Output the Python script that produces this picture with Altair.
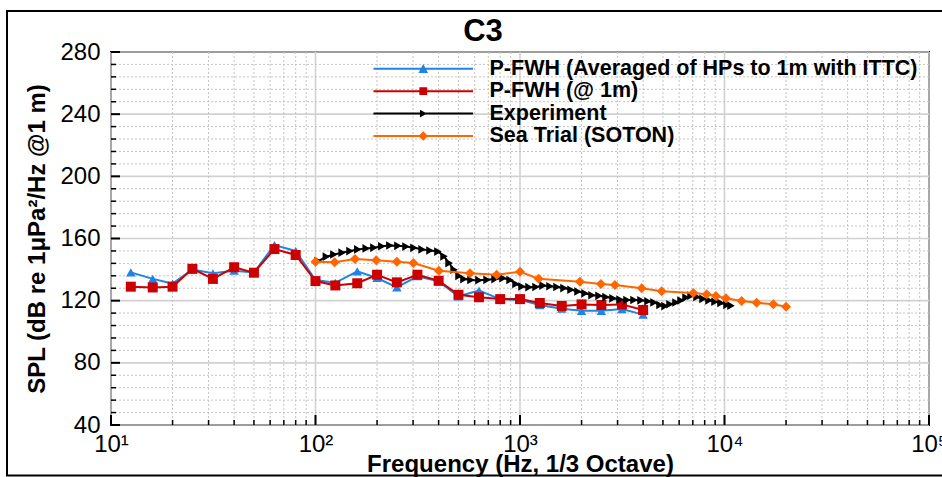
import altair as alt
import pandas as pd

# ---------------------------------------------------------------- data
# 1/3-octave band centres used by the two P-FWH predictions (Hz)
band_freq = [12.5, 16, 20, 25, 31.5, 40, 50, 63, 80, 100, 125, 160, 200, 250,
             315, 400, 500, 630, 800, 1000, 1250, 1600, 2000, 2500, 3150, 4000]
pfwh_avg_spl = [138.2, 134.0, 131.0, 140.0, 137.6, 139.3, 138.2, 155.8, 152.0, 133.3,
                131.5, 138.9, 134.6, 128.5, 135.7, 132.4, 122.8, 126.5, 121.0, 120.5,
                117.2, 114.8, 113.5, 113.5, 114.6, 111.0]
pfwh_1m_spl = [129.0, 128.5, 129.0, 140.5, 134.0, 141.5, 138.0, 153.2, 149.4, 132.6,
               129.8, 131.2, 136.7, 131.8, 136.7, 132.8, 123.8, 122.2, 121.0, 121.0,
               118.5, 116.6, 117.6, 117.2, 117.6, 114.0]

# model-scale experiment (Hz, dB)
exp_freq = [103, 113, 123, 135, 147.5, 161, 177, 193, 211, 231,
            253, 277, 303, 332, 363, 397, 425, 450, 476, 503,
            532, 576, 630, 690, 755, 826, 894, 956, 1023, 1107,
            1197, 1296, 1402, 1517, 1641, 1776, 1921, 2079, 2249, 2434,
            2633, 2850, 3083, 3336, 3610, 3906, 4226, 4522, 4837, 5117,
            5414, 5792, 6128, 6482, 6859, 7337, 7851, 8399, 8986, 9614,
            10285, 10761]
exp_spl = [145.5, 148.3, 149.7, 150.9, 151.9, 153.0, 153.6, 154.1, 155.0, 155.5,
           155.3, 154.8, 154.0, 153.0, 152.3, 151.6, 148.5, 144.2, 139.9, 135.9,
           133.9, 133.3, 133.2, 133.4, 133.9, 134.5, 133.3, 130.7, 129.1, 128.7,
           128.8, 129.7, 129.3, 128.8, 128.1, 127.0, 125.9, 124.7, 123.5, 123.1,
           122.3, 121.5, 120.7, 120.4, 120.4, 120.2, 119.6, 118.9, 117.2, 116.5,
           117.7, 118.8, 120.1, 122.0, 123.2, 122.4, 121.2, 120.2, 119.3, 118.5,
           117.3, 116.8]

# full-scale sea trial (Hz, dB)
sea_freq = [100, 124, 156, 198, 250, 301, 401, 569, 769, 1000, 1234, 1963,
            2488, 2913, 3936, 4930, 7040, 8180, 9080, 10160, 12130, 14360, 17330, 20000]
sea_spl = [145.1, 144.7, 146.8, 146.0, 145.1, 144.2, 139.3, 137.6, 136.7, 138.6, 134.1, 132.2,
           130.7, 130.1, 128.0, 126.0, 125.0, 124.1, 123.0, 121.5, 119.8, 118.7, 117.7, 116.1]

series_names = ["P-FWH (Averaged of HPs to 1m with ITTC)", "P-FWH (@ 1m)",
                "Experiment", "Sea Trial (SOTON)"]
series_colors = ["#1f84e6", "#cc0000", "#000000", "#ff6600"]
series_shapes = ["triangle-up", "square", "triangle-right", "diamond"]
series_sizes = [90, 100, 75, 100]

# legend glyphs: short line segment with the series marker on top
seg = "M-8.3,-0.17L8.3,-0.17L8.3,0.17L-8.3,0.17Z"
legend_glyphs = [
    seg + "M0,-0.8L0.8,0.7L-0.8,0.7Z",
    seg + "M-0.65,-0.65L0.65,-0.65L0.65,0.65L-0.65,0.65Z",
    seg + "M-0.55,-0.65L0.6,0L-0.55,0.65Z",
    seg + "M0,-0.8L0.8,0L0,0.8L-0.8,0Z",
]

# axis ticks / grid positions
x_major = [10, 100, 1000, 10000, 100000]
x_minor = [20, 30, 40, 50, 60, 70, 80, 90,
           200, 300, 400, 500, 600, 700, 800, 900,
           2000, 3000, 4000, 5000, 6000, 7000, 8000, 9000,
           20000, 30000, 40000, 50000, 60000, 70000, 80000, 90000]
x_tick_labels = ["10¹", "10²", "10³", "10⁴", "10⁵"]
y_major = [40, 80, 120, 160, 200, 240, 280]
y_minor = [48, 56, 64, 72, 88, 96, 104, 112, 128, 136, 144, 152,
           168, 176, 184, 192, 208, 216, 224, 232, 248, 256, 264, 272]

# ---------------------------------------------------------------- layout
W, H = 818, 373
FONT = "Liberation Sans"
xs = alt.Scale(type="log", domain=[10, 100000])
ys = alt.Scale(domain=[40, 280])


def X(field, axis=alt.Undefined):
    return alt.X(field, type="quantitative", scale=xs, axis=axis)


def Y(field, axis=alt.Undefined):
    return alt.Y(field, type="quantitative", scale=ys, axis=axis)


label_js = "[" + ",".join("'" + s + "'" for s in x_tick_labels) + "]"
x_axis = alt.Axis(
    values=x_major, grid=False, ticks=False, domain=False,
    labelExpr=label_js + "[round(log(datum.value)/LN10) - 1]",
    labelFont=FONT, labelFontSize=24, labelColor="black", labelPadding=7,
    labelFlush=False, labelOverlap=False,
    title="Frequency (Hz, 1/3 Octave)", titleFont=FONT, titleFontSize=24,
    titleFontWeight="bold", titleColor="black", titleY=46,
    titleBaseline="alphabetic",
)
y_axis = alt.Axis(
    values=y_major, grid=False, ticks=False, domain=False,
    labelFont=FONT, labelFontSize=24, labelColor="black", labelPadding=11,
    labelFlush=False, labelOverlap=False,
    title="SPL (dB re 1μPa²/Hz @1 m)", titleFont=FONT, titleFontSize=24,
    titleFontWeight="bold", titleColor="black", titleX=-67, titleY=H / 2,
    titleBaseline="alphabetic", titleAngle=270,
)

one_row = pd.DataFrame({"k": [0]})

xmin_df = pd.DataFrame({"f": x_minor})
xmaj_df = pd.DataFrame({"f": x_major})
ymin_df = pd.DataFrame({"spl": y_minor})
ymaj_df = pd.DataFrame({"spl": y_major})

# major grid lines carry the axes
grid_major_x = alt.Chart(xmaj_df).mark_rule(color="#d2d2d2", strokeWidth=1.6).encode(x=X("f", x_axis))
grid_major_y = alt.Chart(ymaj_df).mark_rule(color="#d2d2d2", strokeWidth=1.6).encode(y=Y("spl", y_axis))
grid_minor_x = alt.Chart(xmin_df).mark_rule(color="#c4c4c4", strokeWidth=1, strokeDash=[2, 2]).encode(x=X("f"))
grid_minor_y = alt.Chart(ymin_df).mark_rule(color="#c4c4c4", strokeWidth=1, strokeDash=[2, 2]).encode(y=Y("spl"))

# outer frame around the whole figure
frame = alt.Chart(one_row).mark_rect(filled=False, stroke="black", strokeWidth=2).encode(
    x=alt.value(-104), x2=alt.value(850), y=alt.value(-41), y2=alt.value(423.5)
)

# figure title
title_mark = alt.Chart(one_row).mark_text(
    text="C3", font=FONT, fontSize=31, fontWeight="bold", color="black",
    align="center", baseline="alphabetic"
).encode(x=alt.value(372), y=alt.value(-11))

# inward tick marks on the left and bottom edges
tick_y_major = alt.Chart(ymaj_df).mark_rule(color="black", strokeWidth=2).encode(
    y=Y("spl"), x=alt.value(0), x2=alt.value(9))
tick_y_minor = alt.Chart(ymin_df).mark_rule(color="black", strokeWidth=1.5).encode(
    y=Y("spl"), x=alt.value(0), x2=alt.value(5))
tick_x_major = alt.Chart(xmaj_df).mark_rule(color="black", strokeWidth=2).encode(
    x=X("f"), y=alt.value(H), y2=alt.value(H - 10))
tick_x_minor = alt.Chart(xmin_df).mark_rule(color="black", strokeWidth=1.5).encode(
    x=X("f"), y=alt.value(H), y2=alt.value(H - 5))

# legend (drawn from the colour/shape scales of an empty layer)
legend_cfg = dict(
    title=None, orient="none", legendX=301.5, legendY=6, padding=0,
    labelFont=FONT, labelFontSize=21.5, labelFontWeight="bold", labelColor="black",
    labelOffset=55.5, labelLimit=800, symbolSize=144, symbolStrokeWidth=0,
    symbolOpacity=1, rowPadding=-0.6,
)
legend_df = pd.DataFrame({"series": series_names, "f": [100] * 4, "spl": [100] * 4})
legend_layer = alt.Chart(legend_df).transform_filter("false").mark_point(
    filled=True, opacity=1, size=144
).encode(
    x=X("f"), y=Y("spl"),
    color=alt.Color("series:N", scale=alt.Scale(domain=series_names, range=series_colors),
                    legend=alt.Legend(**legend_cfg)),
    shape=alt.Shape("series:N", scale=alt.Scale(domain=series_names, range=legend_glyphs),
                    legend=alt.Legend(**legend_cfg)),
)

# the four spectra
series_data = [
    pd.DataFrame({"f": band_freq, "spl": pfwh_avg_spl}),
    pd.DataFrame({"f": band_freq, "spl": pfwh_1m_spl}),
    pd.DataFrame({"f": exp_freq, "spl": exp_spl}),
    pd.DataFrame({"f": sea_freq, "spl": sea_spl}),
]
series_layers = []
for df, col, shp, sz in zip(series_data, series_colors, series_shapes, series_sizes):
    base = alt.Chart(df).encode(x=X("f"), y=Y("spl"))
    series_layers.append(base.mark_line(color=col, strokeWidth=2))
    series_layers.append(base.mark_point(shape=shp, filled=True, size=sz, color=col,
                                         opacity=1, strokeWidth=0))

chart = alt.layer(
    grid_major_x, grid_major_y, grid_minor_x, grid_minor_y, frame, title_mark,
    tick_y_major, tick_y_minor, tick_x_major, tick_x_minor,
    legend_layer, *series_layers,
).properties(
    width=W, height=H,
    padding={"left": 111, "top": 52, "right": 13, "bottom": 52},
    autosize=alt.AutoSizeParams(type="none"),
).configure(font=FONT).configure_view(stroke="black", strokeWidth=2)

chart.save("out.html", embed_options={"renderer": "svg", "actions": False})
